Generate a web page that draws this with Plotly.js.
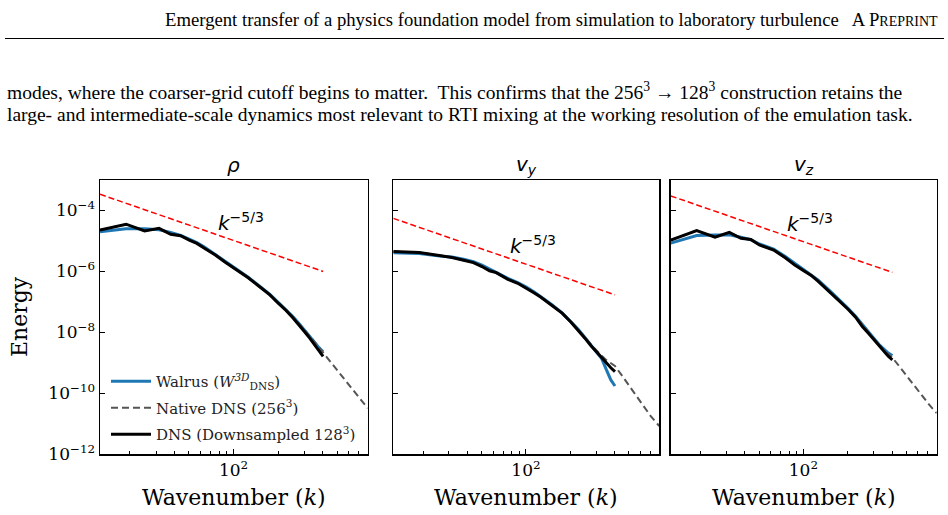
<!DOCTYPE html>
<html>
<head>
<meta charset="utf-8">
<script src="https://cdn.plot.ly/plotly-3.0.1.min.js"></script>
<style>
  html, body { margin: 0; padding: 0; background: #fff; }
  #fig { width: 948px; height: 515px; }
</style>
</head>
<body>
<div id="fig"></div>
<script>
// Wavenumbers of the 128^3 shells and of the full 256^3 native spectrum
const wavenumber = [12.57, 18.85, 25.13, 31.42, 37.70, 43.98, 50.27, 56.55, 62.83, 75.40,
  87.96, 100.53, 113.10, 125.66, 150.80, 175.93, 201.06, 226.19, 251.33, 276.46,
  301.59, 326.73, 351.86, 376.99, 402.12];
const wavenumberNative = [12.57, 18.85, 25.13, 31.42, 37.70, 43.98, 50.27, 56.55, 62.83, 75.40,
  87.96, 100.53, 113.10, 125.66, 150.80, 175.93, 201.06, 226.19, 251.33, 276.46,
  301.59, 326.73, 351.86, 376.99, 402.12, 452.39, 502.65, 552.92, 603.19, 653.45,
  703.72, 753.98, 804.25];

// Density spectra
const rhoWalrus = [2.00e-5, 2.51e-5, 2.51e-5, 2.34e-5, 1.91e-5, 1.51e-5, 1.15e-5, 8.91e-6, 6.61e-6, 3.63e-6,
  2.19e-6, 1.38e-6, 9.33e-7, 6.46e-7, 3.24e-7, 1.78e-7, 9.55e-8, 5.62e-8, 3.31e-8, 1.95e-8,
  1.20e-8, 7.59e-9, 4.79e-9, 3.16e-9, 2.29e-9];
const rhoDownsampled = [2.29e-5, 3.55e-5, 2.14e-5, 2.60e-5, 1.66e-5, 1.48e-5, 1.07e-5, 8.32e-6, 6.03e-6, 3.47e-6,
  2.00e-6, 1.32e-6, 8.91e-7, 6.17e-7, 3.09e-7, 1.70e-7, 8.91e-8, 5.25e-8, 3.02e-8, 1.78e-8,
  1.05e-8, 6.46e-9, 3.89e-9, 2.51e-9, 1.62e-9];
const rhoNative = [2.29e-5, 3.55e-5, 2.14e-5, 2.60e-5, 1.66e-5, 1.48e-5, 1.07e-5, 8.32e-6, 6.03e-6, 3.47e-6,
  2.00e-6, 1.32e-6, 8.91e-7, 6.17e-7, 3.09e-7, 1.70e-7, 8.91e-8, 5.50e-8, 3.24e-8, 1.95e-8,
  1.20e-8, 7.59e-9, 4.90e-9, 3.24e-9, 2.14e-9, 1.05e-9, 5.50e-10, 3.09e-10, 1.82e-10, 1.12e-10,
  7.24e-11, 4.79e-11, 3.24e-11];

// v_y spectra
const vyWalrus = [4.07e-6, 3.89e-6, 3.24e-6, 2.95e-6, 2.51e-6, 2.09e-6, 1.62e-6, 1.20e-6, 9.55e-7, 5.89e-7,
  4.27e-7, 3.09e-7, 2.14e-7, 1.51e-7, 7.94e-8, 4.37e-8, 2.34e-8, 1.26e-8, 6.76e-9, 3.80e-9,
  2.29e-9, 1.38e-9, 5.89e-10, 2.75e-10, 1.74e-10];
const vyDownsampled = [4.47e-6, 4.17e-6, 3.39e-6, 2.88e-6, 2.34e-6, 1.95e-6, 1.45e-6, 1.05e-6, 9.12e-7, 5.50e-7,
  4.07e-7, 2.88e-7, 2.00e-7, 1.45e-7, 7.76e-8, 4.27e-8, 2.24e-8, 1.20e-8, 6.46e-9, 3.63e-9,
  2.24e-9, 1.41e-9, 9.77e-10, 6.92e-10, 5.13e-10];
const vyNative = [4.47e-6, 4.17e-6, 3.39e-6, 2.88e-6, 2.34e-6, 1.95e-6, 1.45e-6, 1.05e-6, 9.12e-7, 5.50e-7,
  4.07e-7, 2.88e-7, 2.00e-7, 1.45e-7, 7.76e-8, 4.27e-8, 2.24e-8, 1.23e-8, 6.76e-9, 3.98e-9,
  2.51e-9, 1.70e-9, 1.23e-9, 9.77e-10, 7.94e-10, 3.63e-10, 1.74e-10, 8.71e-11, 4.90e-11, 2.88e-11,
  1.78e-11, 1.20e-11, 8.51e-12];

// v_z spectra
const vzWalrus = [8.51e-6, 1.51e-5, 1.58e-5, 1.58e-5, 1.32e-5, 1.10e-5, 7.94e-6, 6.46e-6, 5.37e-6, 3.09e-6,
  1.82e-6, 1.15e-6, 7.94e-7, 5.25e-7, 2.34e-7, 1.17e-7, 6.17e-8, 3.39e-8, 1.78e-8, 1.02e-8,
  6.31e-9, 3.98e-9, 2.75e-9, 2.09e-9, 1.74e-9];
const vzDownsampled = [1.07e-5, 2.19e-5, 1.32e-5, 1.91e-5, 1.23e-5, 1.12e-5, 7.41e-6, 6.03e-6, 5.01e-6, 2.82e-6,
  1.58e-6, 1.05e-6, 7.41e-7, 4.79e-7, 2.14e-7, 1.10e-7, 5.75e-8, 3.16e-8, 1.55e-8, 9.33e-9,
  5.62e-9, 3.55e-9, 2.40e-9, 1.66e-9, 1.26e-9];
const vzNative = [1.07e-5, 2.19e-5, 1.32e-5, 1.91e-5, 1.23e-5, 1.12e-5, 7.41e-6, 6.03e-6, 5.01e-6, 2.82e-6,
  1.58e-6, 1.05e-6, 7.41e-7, 4.79e-7, 2.14e-7, 1.10e-7, 5.75e-8, 3.31e-8, 1.74e-8, 1.00e-8,
  6.03e-9, 3.80e-9, 2.63e-9, 1.95e-9, 1.48e-9, 7.24e-10, 3.72e-10, 2.04e-10, 1.20e-10, 7.41e-11,
  4.68e-11, 3.16e-11, 2.24e-11];

// k^(-5/3) reference segments (end points)
const slopeK = [12.57, 402.12];
const rhoSlope = [3.4e-4, 1.0e-6];
const vySlope = [5.5e-5, 1.7e-7];
const vzSlope = [3.0e-4, 9.3e-7];

// Tick labels
const yTickVals = [1e-12, 1e-10, 1e-8, 1e-6, 1e-4];
const yTickText = ['10<sup>\u221212</sup>', '10<sup>\u221210</sup>', '10<sup>\u22128</sup>',
  '10<sup>\u22126</sup>', '10<sup>\u22124</sup>'];
const xMinorVals = [20, 30, 40, 50, 60, 70, 80, 90, 200, 300, 400, 500, 600, 700, 800];

const panelTitles = ['<i>\u03c1</i>', '<i>v</i><sub><i>y</i></sub>', '<i>v</i><sub><i>z</i></sub>'];
const seriesNames = ['Walrus (<i>W</i><sup><i>3D</i></sup><sub>DNS</sub>)', 'Native DNS (256<sup>3</sup>)',
  'DNS (Downsampled 128<sup>3</sup>)'];

const panels = [
  { walrus: rhoWalrus, native: rhoNative, down: rhoDownsampled, slope: rhoSlope },
  { walrus: vyWalrus, native: vyNative, down: vyDownsampled, slope: vySlope },
  { walrus: vzWalrus, native: vzNative, down: vzDownsampled, slope: vzSlope }
];

const W = 948, H = 515;
const px = v => v / W;
const py = v => 1 - v / H;

// plot boxes in pixels
const boxes = [[100, 367.7], [393.3, 659.3], [670.7, 936.7]];
const yTop = 180, yBot = 454.3;

const serif = 'DejaVu Serif, serif';
const sans = 'DejaVu Sans, sans-serif';

const traces = [];
panels.forEach((p, i) => {
  const xa = i === 0 ? 'x' : 'x' + (i + 1);
  const ya = i === 0 ? 'y' : 'y' + (i + 1);
  const first = i === 0;
  traces.push({ x: wavenumber, y: p.walrus, xaxis: xa, yaxis: ya, mode: 'lines', name: seriesNames[0],
    line: { color: '#1f77b4', width: 3 }, showlegend: first, legendgroup: 'a' });
  traces.push({ x: wavenumberNative, y: p.native, xaxis: xa, yaxis: ya, mode: 'lines', name: seriesNames[1],
    line: { color: '#555555', width: 2, dash: '7px,4px' }, showlegend: first, legendgroup: 'b' });
  traces.push({ x: wavenumber, y: p.down, xaxis: xa, yaxis: ya, mode: 'lines', name: seriesNames[2],
    line: { color: '#000000', width: 3 }, showlegend: first, legendgroup: 'c' });
  traces.push({ x: slopeK, y: p.slope, xaxis: xa, yaxis: ya, mode: 'lines', name: 'k^-5/3',
    line: { color: '#ff0000', width: 1.5, dash: '6px,3px' }, showlegend: false });
});

const layout = {
  width: W, height: H,
  margin: { l: 0, r: 0, t: 0, b: 0 },
  paper_bgcolor: '#ffffff', plot_bgcolor: '#ffffff',
  showlegend: true,
  legend: {
    x: px(106), y: py(365), xanchor: 'left', yanchor: 'top',
    bgcolor: 'rgba(0,0,0,0)', borderwidth: 0,
    font: { family: serif, size: 15, color: '#222' },
    itemwidth: 40, tracegroupgap: 4
  },
  annotations: [],
  shapes: [
    { type: 'line', xref: 'paper', yref: 'paper', x0: px(5), x1: px(944), y0: py(38.5), y1: py(38.5),
      line: { color: '#000', width: 1 } }
  ]
};

boxes.forEach((b, i) => {
  const sfx = i === 0 ? '' : String(i + 1);
  layout['xaxis' + sfx] = {
    type: 'log', domain: [px(b[0]), px(b[1])], anchor: 'y' + sfx,
    range: [Math.log10(12.566), Math.log10(804.25)],
    showgrid: false, zeroline: false,
    showline: true, mirror: true, linecolor: '#000', linewidth: 1.5,
    ticks: 'inside', ticklen: 5, tickwidth: 1, tickcolor: '#000',
    tickmode: 'array', tickvals: [100], ticktext: ['10<sup>2</sup>'],
    tickfont: { family: serif, size: 17, color: '#000' },
    minor: { tickmode: 'array', tickvals: xMinorVals, ticks: 'inside', ticklen: 3, tickwidth: 1, tickcolor: '#000' }
  };
  layout['yaxis' + sfx] = {
    type: 'log', domain: [py(yBot), py(yTop)], anchor: 'x' + sfx,
    range: [-12, -3],
    showgrid: false, zeroline: false,
    showline: true, mirror: true, linecolor: '#000', linewidth: 1.5,
    ticks: 'inside', ticklen: 5, tickwidth: 1, tickcolor: '#000',
    tickmode: 'array', tickvals: yTickVals, ticktext: yTickText,
    showticklabels: i === 0,
    tickfont: { family: serif, size: 17, color: '#000' }
  };
  const cx = (b[0] + b[1]) / 2;
  layout.annotations.push({ xref: 'paper', yref: 'paper', x: px(cx), y: py(165), text: panelTitles[i],
    showarrow: false, xanchor: 'center', yanchor: 'middle', font: { family: sans, size: 20, color: '#000' } });
  layout.annotations.push({ xref: 'paper', yref: 'paper', x: px(cx), y: py(497), text: 'Wavenumber (<i>k</i>)',
    showarrow: false, xanchor: 'center', yanchor: 'middle', font: { family: serif, size: 22, color: '#000' } });
});

// slope labels
[[216, 222], [508, 245], [785, 223]].forEach(p => {
  layout.annotations.push({ xref: 'paper', yref: 'paper', x: px(p[0]), y: py(p[1]),
    text: '<i>k</i><sup>\u22125/3</sup>', showarrow: false, xanchor: 'left', yanchor: 'middle',
    font: { family: sans, size: 20, color: '#000' } });
});

// y-axis title
layout.annotations.push({ xref: 'paper', yref: 'paper', x: px(19), y: py(317), text: 'Energy', textangle: -90,
  showarrow: false, xanchor: 'center', yanchor: 'middle', font: { family: serif, size: 22, color: '#000' } });

// running header and body text
const headFont = { family: 'Liberation Serif, serif', size: 18.7, color: '#000' };
const bodyFont = { family: 'Liberation Serif, serif', size: 19.5, color: '#000' };
layout.annotations.push({ xref: 'paper', yref: 'paper', x: px(940), y: py(19),
  text: 'Emergent transfer of a physics foundation model from simulation to laboratory turbulence   A P<span style="font-size:14px">REPRINT</span>',
  showarrow: false, xanchor: 'right', yanchor: 'middle', font: headFont });
layout.annotations.push({ xref: 'paper', yref: 'paper', x: px(5), y: py(91.5), height: 22, valign: 'bottom',
  text: 'modes, where the coarser-grid cutoff begins to matter.  This confirms that the 256<sup>3</sup> \u2192 128<sup>3</sup> construction retains the',
  showarrow: false, xanchor: 'left', yanchor: 'middle', font: bodyFont });
layout.annotations.push({ xref: 'paper', yref: 'paper', x: px(5), y: py(113.5), height: 22, valign: 'middle',
  text: 'large- and intermediate-scale dynamics most relevant to RTI mixing at the working resolution of the emulation task.',
  showarrow: false, xanchor: 'left', yanchor: 'middle', font: bodyFont });

Plotly.newPlot('fig', traces, layout, { staticPlot: true, displayModeBar: false });
</script>
</body>
</html>
